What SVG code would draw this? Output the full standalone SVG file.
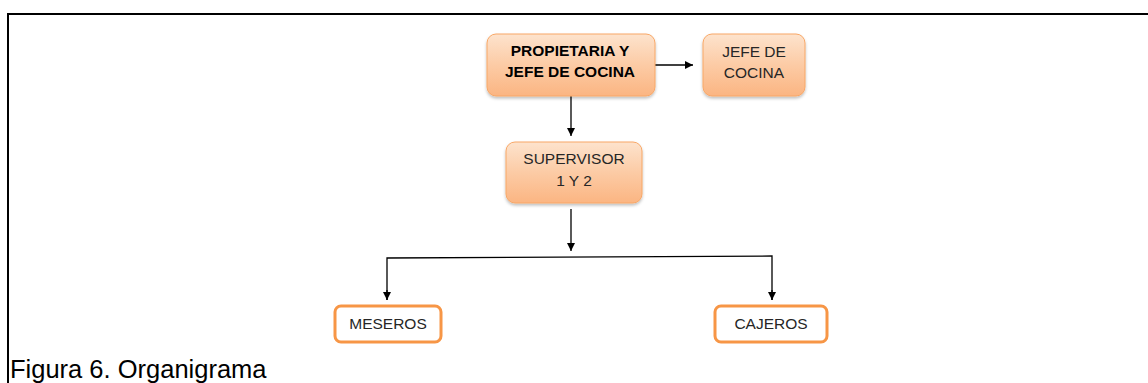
<svg xmlns="http://www.w3.org/2000/svg" width="1148" height="383" viewBox="0 0 1148 383">
<style>
.box{fill:url(#og);stroke:#F8A766;stroke-width:1;filter:url(#sh)}
.wbox{fill:#fff;stroke:#F79646;stroke-width:3}
.t{font-family:"Liberation Sans",Arial,sans-serif;font-size:15.5px;fill:#262626;text-anchor:middle}
.b{font-weight:bold;fill:#000}
.c{stroke:#000;stroke-width:1.3;fill:none}
</style>
<defs>
<linearGradient id="og" x1="0" y1="0" x2="0" y2="1">
<stop offset="0" stop-color="#FDE3CD"/>
<stop offset="0.5" stop-color="#FCCBA5"/>
<stop offset="1" stop-color="#FBB582"/>
</linearGradient>
<filter id="sh" x="-10%" y="-10%" width="120%" height="130%">
<feDropShadow dx="0" dy="2" stdDeviation="1.5" flood-color="#000" flood-opacity="0.25"/>
</filter>
<marker id="ah" markerWidth="10" markerHeight="10" refX="9" refY="5" orient="auto" markerUnits="userSpaceOnUse">
<path d="M1,1 L9,5 L1,9 Z" fill="#000"/>
</marker>
</defs>
<rect width="1148" height="383" fill="#fff"/>
<path d="M8,383 V14 H1148" fill="none" stroke="#000" stroke-width="2"/>
<g id="connectors">
<line class="c" x1="655" y1="65" x2="693" y2="65" marker-end="url(#ah)"/>
<line class="c" x1="571" y1="96" x2="571" y2="136" marker-end="url(#ah)"/>
<line class="c" x1="571" y1="209" x2="571" y2="251" marker-end="url(#ah)"/>
<polyline class="c" points="387,300 387,258 772,256 772,300"/>
<line class="c" x1="387" y1="290" x2="387" y2="300" marker-end="url(#ah)"/>
<line class="c" x1="772" y1="290" x2="772" y2="300" marker-end="url(#ah)"/>
</g>
<g id="propietaria">
<rect class="box" x="487" y="34" width="168" height="62" rx="9"/>
<text class="t b" x="570" y="56">PROPIETARIA Y</text>
<text class="t b" x="570" y="77">JEFE DE COCINA</text>
</g>
<g id="jefe">
<rect class="box" x="703" y="34" width="102" height="62" rx="9"/>
<text class="t" x="754" y="57">JEFE DE</text>
<text class="t" x="754" y="78">COCINA</text>
</g>
<g id="supervisor">
<rect class="box" x="506" y="142" width="136" height="61" rx="9"/>
<text class="t" x="574" y="164">SUPERVISOR</text>
<text class="t" x="574" y="186">1 Y 2</text>
</g>
<g id="meseros">
<rect class="wbox" x="335" y="306" width="106" height="36" rx="6"/>
<text class="t" x="388" y="329">MESEROS</text>
</g>
<g id="cajeros">
<rect class="wbox" x="715" y="306" width="112" height="36" rx="6"/>
<text class="t" x="771" y="329">CAJEROS</text>
</g>
<text x="10" y="378" font-family="Liberation Sans,Arial,sans-serif" font-size="25.5" fill="#000">Figura 6. Organigrama</text>
</svg>
